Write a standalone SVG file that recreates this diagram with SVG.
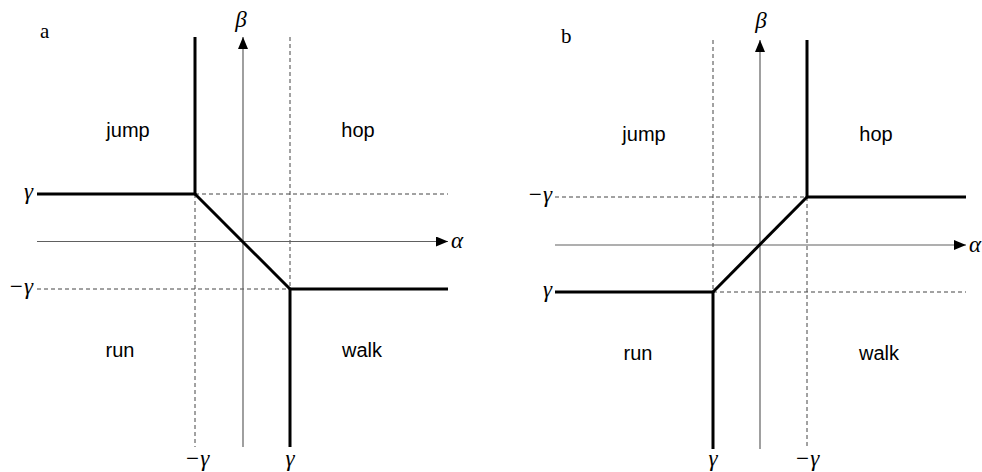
<svg xmlns="http://www.w3.org/2000/svg" width="982" height="472" viewBox="0 0 982 472">
<style>
.axis{stroke:#606060;stroke-width:1.2;fill:none}
.thick{stroke:#000;stroke-width:3;fill:none;stroke-linejoin:miter}
.dash{stroke:#444;stroke-width:1;stroke-dasharray:4 3;fill:none}
.region{font-family:"Liberation Sans",Arial,sans-serif;font-size:20px;fill:#000;text-anchor:middle}
.math{font-family:"Liberation Serif","Times New Roman",serif;font-style:italic;font-size:23px;fill:#000}
.panel{font-family:"Liberation Serif","Times New Roman",serif;font-size:21px;fill:#000}
</style>
<defs>
<marker id="arr" viewBox="0 0 12 10" refX="12" refY="5" markerWidth="12" markerHeight="10" markerUnits="userSpaceOnUse" orient="auto">
<path d="M0,0 L12,5 L0,10 Z" fill="#000"/>
</marker>
</defs>
<rect width="982" height="472" fill="#fff"/>

<g id="panel-a">
<text class="panel" x="40" y="38">a</text>
<g id="a-connectors">
<line class="dash" x1="290" y1="37" x2="290" y2="289"/>
<line class="dash" x1="195" y1="194" x2="195" y2="447"/>
<line class="dash" x1="195" y1="194" x2="448" y2="194"/>
<line class="dash" x1="37" y1="289" x2="290" y2="289"/>
<line class="axis" x1="243" y1="447" x2="243" y2="37" marker-end="url(#arr)"/>
<line class="axis" x1="37" y1="241.5" x2="448" y2="241.5" marker-end="url(#arr)"/>
<polyline class="thick" points="195,37 195,194 37,194"/>
<line class="thick" x1="195" y1="194" x2="290" y2="289"/>
<polyline class="thick" points="448,289 290,289 290,447"/>
</g>
<g id="a-labels">
<text class="math" x="241" y="27" text-anchor="middle">β</text>
<text class="math" x="451" y="248">α</text>
<text class="math" x="33" y="199" text-anchor="end">γ</text>
<text class="math" x="33" y="294" text-anchor="end">−γ</text>
<text class="math" x="197" y="466" text-anchor="middle">−γ</text>
<text class="math" x="290" y="466" text-anchor="middle">γ</text>
</g>
<g id="a-jump"><text class="region" x="128" y="137">jump</text></g>
<g id="a-hop"><text class="region" x="358" y="137">hop</text></g>
<g id="a-run"><text class="region" x="120" y="357">run</text></g>
<g id="a-walk"><text class="region" x="362" y="357">walk</text></g>
</g>

<g id="panel-b">
<text class="panel" x="561" y="43">b</text>
<g id="b-connectors">
<line class="dash" x1="713" y1="40" x2="713" y2="292"/>
<line class="dash" x1="807" y1="197" x2="807" y2="449"/>
<line class="dash" x1="555" y1="197" x2="807" y2="197"/>
<line class="dash" x1="713" y1="292" x2="966" y2="292"/>
<line class="axis" x1="760" y1="449" x2="760" y2="40" marker-end="url(#arr)"/>
<line class="axis" x1="555" y1="245" x2="966" y2="245" marker-end="url(#arr)"/>
<polyline class="thick" points="807,40 807,197 966,197"/>
<line class="thick" x1="807" y1="197" x2="713" y2="292"/>
<polyline class="thick" points="555,292 713,292 713,449"/>
</g>
<g id="b-labels">
<text class="math" x="761" y="28" text-anchor="middle">β</text>
<text class="math" x="969" y="252">α</text>
<text class="math" x="552" y="202" text-anchor="end">−γ</text>
<text class="math" x="552" y="297" text-anchor="end">γ</text>
<text class="math" x="713" y="466" text-anchor="middle">γ</text>
<text class="math" x="807" y="466" text-anchor="middle">−γ</text>
</g>
<g id="b-jump"><text class="region" x="644" y="141">jump</text></g>
<g id="b-hop"><text class="region" x="876" y="141">hop</text></g>
<g id="b-run"><text class="region" x="638" y="360">run</text></g>
<g id="b-walk"><text class="region" x="879" y="360">walk</text></g>
</g>
</svg>
